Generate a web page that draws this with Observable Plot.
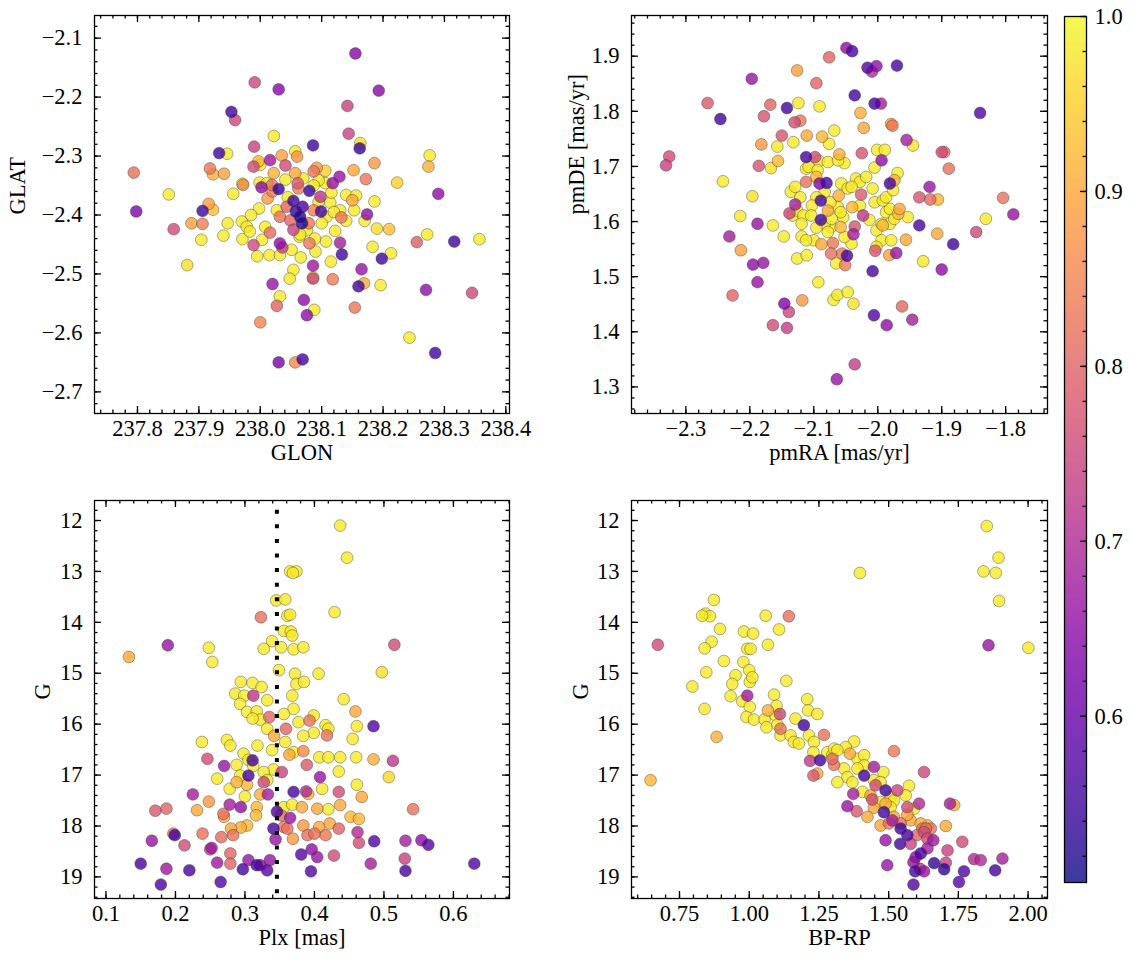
<!DOCTYPE html>
<html>
<head>
<meta charset="utf-8">
<script src="https://cdn.jsdelivr.net/npm/d3@7"></script>
<script src="https://cdn.jsdelivr.net/npm/@observablehq/plot@0.6"></script>
<style>
  body { margin: 0; background: #fff; }
  #fig { position: relative; width: 1133px; height: 965px; background: #fff; overflow: hidden; }
  #fig svg { position: absolute; overflow: visible; }
</style>
</head>
<body>
<div id="fig"></div>
<script>
// ---------- tick labels ----------
const glonTicks = [237.8, 237.9, 238.0, 238.1, 238.2, 238.3, 238.4];
const glatTicks = [-2.7, -2.6, -2.5, -2.4, -2.3, -2.2, -2.1];
const pmraTicks = [-2.3, -2.2, -2.1, -2.0, -1.9, -1.8];
const pmdeTicks = [1.3, 1.4, 1.5, 1.6, 1.7, 1.8, 1.9];
const plxTicks = [0.1, 0.2, 0.3, 0.4, 0.5, 0.6];
const gTicks = [12, 13, 14, 15, 16, 17, 18, 19];
const bprpTicks = [0.75, 1.0, 1.25, 1.5, 1.75, 2.0];
const probTicks = [0.6, 0.7, 0.8, 0.9, 1.0];
const probRange = [0.505, 1.0];
const plxMean = [0.346];

// ---------- data: [x, y, membership probability] ----------
const skyPoints = [
[238.155,-2.126,.64],[237.991,-2.175,.75],[238.030,-2.187,.64],[238.193,-2.189,.64],[237.953,-2.225,.55],
[237.959,-2.239,.75],[238.142,-2.215,.74],[238.144,-2.262,.74],[238.022,-2.266,.98],[238.086,-2.282,.55],
[238.163,-2.278,.97],[238.162,-2.287,.54],[237.990,-2.284,.74],[237.946,-2.296,.98],[237.933,-2.295,.55],
[238.276,-2.299,.98],[238.274,-2.318,.91],[237.794,-2.328,.82],[238.186,-2.312,.88],[238.223,-2.345,.95],
[238.290,-2.364,.65],[237.798,-2.394,.63],[237.851,-2.365,.98],[237.859,-2.424,.76],[237.888,-2.414,.89],
[237.906,-2.415,.84],[237.916,-2.381,.89],[237.923,-2.391,.93],[237.906,-2.393,.55],[237.918,-2.321,.83],
[237.923,-2.331,.91],[237.941,-2.330,.89],[237.904,-2.442,.98],[237.881,-2.485,.97],[237.940,-2.435,.98],
[237.947,-2.414,.98],[237.956,-2.364,.98],[237.972,-2.349,.85],[237.970,-2.411,.98],[237.971,-2.441,.98],
[237.989,-2.451,.76],[237.995,-2.470,.98],[237.999,-2.345,.98],[238.002,-2.353,.65],[237.998,-2.389,.98],
[238.000,-2.315,.98],[237.997,-2.309,.92],[237.989,-2.318,.76],[238.016,-2.307,.67],[238.012,-2.372,.88],
[238.020,-2.360,.84],[238.022,-2.329,.91],[238.035,-2.299,.89],[238.041,-2.316,.76],[238.060,-2.301,.87],
[238.030,-2.356,.54],[238.057,-2.292,.98],[238.057,-2.329,.90],[238.061,-2.346,.78],[238.062,-2.355,.84],
[238.054,-2.376,.55],[238.058,-2.394,.54],[238.065,-2.403,.52],[238.069,-2.386,.56],[238.068,-2.414,.52],
[238.043,-2.386,.80],[238.049,-2.409,.80],[238.054,-2.425,.74],[238.080,-2.359,.54],[238.092,-2.320,.88],
[238.087,-2.326,.83],[238.106,-2.325,.95],[238.098,-2.369,.72],[238.099,-2.394,.56],[238.087,-2.392,.84],
[238.079,-2.414,.83],[238.076,-2.426,.98],[238.118,-2.346,.66],[238.129,-2.335,.66],[238.114,-2.379,.98],
[238.116,-2.362,.98],[238.132,-2.404,.83],[238.140,-2.366,.98],[238.156,-2.367,.98],[238.150,-2.375,.90],
[238.153,-2.392,.98],[238.152,-2.324,.90],[238.172,-2.339,.83],[238.174,-2.399,.65],[238.170,-2.410,.98],
[238.186,-2.377,.98],[238.190,-2.423,.97],[238.210,-2.424,.93],[238.183,-2.454,.98],[238.213,-2.465,.98],
[238.198,-2.474,.55],[238.165,-2.492,.66],[238.196,-2.519,.98],[238.169,-2.516,.90],[238.160,-2.521,.55],
[238.154,-2.557,.83],[238.130,-2.447,.68],[238.133,-2.467,.55],[238.122,-2.427,.98],[238.107,-2.445,.98],
[238.115,-2.479,.98],[238.118,-2.509,.84],[238.086,-2.486,.67],[238.086,-2.506,.98],[238.086,-2.508,.74],
[238.089,-2.440,.98],[238.090,-2.462,.98],[238.080,-2.448,.83],[238.066,-2.472,.98],[238.064,-2.437,.98],
[238.054,-2.493,.98],[238.048,-2.508,.98],[238.071,-2.544,.65],[238.088,-2.561,.98],[238.076,-2.570,.65],
[238.032,-2.538,.98],[238.027,-2.554,.80],[238.020,-2.517,.66],[238.000,-2.582,.85],[238.030,-2.650,.62],
[238.057,-2.650,.86],[238.069,-2.645,.56],[238.243,-2.608,.98],[238.285,-2.634,.55],[238.345,-2.532,.75],
[238.270,-2.527,.65],[238.255,-2.446,.79],[238.272,-2.433,.98],[238.316,-2.445,.55],[238.357,-2.441,.98],
[238.032,-2.448,.65],[238.036,-2.455,.74],[238.016,-2.430,.81],[238.015,-2.468,.98],[238.032,-2.468,.98],
[238.051,-2.459,.98],[238.008,-2.420,.98],[238.003,-2.442,.98],[237.978,-2.420,.98],[237.983,-2.428,.98],
[238.108,-2.403,.98],[238.100,-2.414,.98],[238.106,-2.346,.98],[238.095,-2.341,.98],[238.070,-2.338,.98],
[238.087,-2.350,.98],[238.027,-2.392,.98],[238.032,-2.403,.82],[238.011,-2.346,.98],[238.019,-2.349,.82],
[237.971,-2.347,.98],[238.130,-2.392,.98],[238.041,-2.340,.98],[238.045,-2.370,.98],[238.095,-2.378,.98],
[238.120,-2.395,.98],[238.065,-2.433,.98],[237.985,-2.400,.98],[238.140,-2.410,.98]
];

const pmPoints = [
[-2.331,1.702,.74],[-2.326,1.718,.76],[-2.266,1.815,.78],[-2.246,1.786,.55],[-2.242,1.673,.98],
[-2.197,1.859,.66],[-2.182,1.740,.88],[-2.168,1.812,.80],[-2.178,1.791,.77],[-2.186,1.701,.77],
[-2.196,1.646,.97],[-2.215,1.610,.98],[-2.188,1.596,.66],[-2.232,1.573,.68],[-2.214,1.548,.89],
[-2.195,1.522,.65],[-2.179,1.525,.66],[-2.188,1.490,.66],[-2.227,1.466,.80],[-2.164,1.412,.76],
[-2.146,1.451,.63],[-2.139,1.436,.75],[-2.142,1.407,.73],[-2.118,1.457,.88],[-2.164,1.593,.98],
[-2.147,1.573,.98],[-2.138,1.615,.75],[-2.129,1.631,.68],[-2.133,1.611,.98],[-2.136,1.654,.98],
[-2.157,1.736,.98],[-2.156,1.710,.92],[-2.167,1.697,.97],[-2.150,1.756,.77],[-2.132,1.744,.98],
[-2.142,1.806,.55],[-2.126,1.874,.89],[-2.124,1.815,.98],[-2.130,1.780,.76],[-2.121,1.783,.83],
[-2.111,1.756,.90],[-2.096,1.851,.80],[-2.091,1.809,.98],[-2.087,1.754,.92],[-2.076,1.741,.98],
[-2.068,1.765,.98],[-2.076,1.898,.80],[-2.049,1.915,.65],[-2.040,1.909,.57],[-2.036,1.829,.55],
[-2.016,1.879,.58],[-2.009,1.872,.70],[-2.002,1.882,.65],[-1.970,1.883,.56],[-1.995,1.814,.68],
[-2.005,1.814,.56],[-2.027,1.797,.91],[-2.022,1.770,.90],[-1.979,1.777,.90],[-1.977,1.774,.83],
[-1.955,1.748,.68],[-1.945,1.738,.98],[-2.001,1.730,.98],[-1.989,1.730,.98],[-2.025,1.724,.77],
[-1.994,1.711,.65],[-2.005,1.698,.98],[-1.969,1.688,.98],[-1.981,1.669,.56],[-1.974,1.675,.91],
[-1.900,1.726,.76],[-1.896,1.726,.82],[-1.889,1.696,.82],[-1.919,1.663,.66],[-1.935,1.644,.77],
[-1.918,1.640,.81],[-1.906,1.640,.92],[-1.935,1.593,.56],[-1.953,1.608,.98],[-1.968,1.614,.92],
[-1.956,1.567,.90],[-1.907,1.578,.90],[-1.882,1.559,.55],[-1.929,1.528,.98],[-1.900,1.513,.65],
[-1.971,1.543,.66],[-1.982,1.539,.89],[-2.004,1.547,.77],[-2.008,1.510,.56],[-2.006,1.430,.57],
[-1.986,1.412,.65],[-1.962,1.446,.81],[-1.946,1.422,.68],[-1.846,1.581,.75],[-1.840,1.797,.57],
[-1.831,1.605,.98],[-1.804,1.643,.82],[-1.788,1.613,.66],[-2.036,1.341,.73],[-2.064,1.314,.66],
[-2.069,1.458,.98],[-2.063,1.467,.98],[-2.047,1.472,.98],[-2.038,1.451,.97],[-2.093,1.490,.98],
[-2.126,1.533,.98],[-2.111,1.539,.98],[-2.100,1.566,.98],[-2.119,1.573,.98],[-2.088,1.559,.90],
[-2.070,1.561,.83],[-2.073,1.542,.82],[-2.065,1.524,.98],[-2.056,1.542,.83],[-2.051,1.521,.84],
[-2.048,1.538,.56],[-2.041,1.560,.98],[-2.038,1.577,.68],[-2.036,1.591,.77],[-2.058,1.590,.92],
[-2.073,1.590,.98],[-2.083,1.596,.98],[-2.054,1.608,.98],[-2.040,1.626,.92],[-2.023,1.611,.72],
[-2.028,1.629,.98],[-2.013,1.603,.98],[-2.005,1.635,.98],[-2.026,1.649,.78],[-2.008,1.660,.98],
[-2.034,1.678,.98],[-2.028,1.672,.98],[-2.002,1.584,.98],[-1.992,1.593,.92],[-1.987,1.617,.98],
[-1.981,1.623,.98],[-1.992,1.638,.98],[-1.981,1.596,.98],[-1.974,1.605,.98],[-1.994,1.566,.98],
[-1.979,1.566,.98],[-1.994,1.596,.98],[-2.002,1.554,.98],[-1.987,1.644,.98],[-1.976,1.657,.98],
[-2.057,1.669,.98],[-2.047,1.660,.98],[-2.061,1.647,.91],[-2.062,1.626,.98],[-2.058,1.617,.98],
[-2.078,1.620,.90],[-2.074,1.635,.98],[-2.089,1.603,.55],[-2.089,1.638,.56],[-2.091,1.669,.64],
[-2.080,1.670,.55],[-2.083,1.654,.98],[-2.096,1.644,.98],[-2.103,1.629,.98],[-2.112,1.672,.82],
[-2.112,1.696,.98],[-2.112,1.717,.56],[-2.098,1.717,.76],[-2.108,1.699,.98],[-2.092,1.710,.98],
[-2.094,1.693,.98],[-2.096,1.681,.92],[-2.078,1.708,.98],[-2.060,1.722,.91],[-2.052,1.706,.98],
[-2.062,1.711,.98],[-2.041,1.663,.98],[-2.018,1.681,.98],[-2.121,1.644,.98],[-2.129,1.663,.98],
[-2.126,1.620,.98],[-2.116,1.611,.98],[-2.104,1.611,.98],[-2.119,1.596,.98],[-2.112,1.566,.98],
[-2.096,1.589,.98],[-2.078,1.581,.98],[-2.072,1.605,.98],[-2.052,1.572,.98],[-1.966,1.623,.90]
];

const plxPoints = [
[0.437,12.10,.98],[0.447,12.73,.98],[0.365,13.00,.98],[0.374,13.00,.98],[0.369,13.03,.98],
[0.345,13.57,.98],[0.358,13.55,.98],[0.361,13.87,.98],[0.365,13.85,.98],[0.429,13.80,.98],
[0.323,13.90,.82],[0.339,14.37,.98],[0.356,14.17,.98],[0.366,14.18,.98],[0.368,14.26,.98],
[0.352,14.49,.98],[0.327,14.52,.98],[0.370,14.53,.98],[0.384,14.49,.98],[0.248,14.50,.98],
[0.253,14.78,.98],[0.189,14.45,.66],[0.133,14.68,.90],[0.515,14.44,.76],[0.497,14.98,.97],
[0.406,15.01,.98],[0.372,15.01,.98],[0.374,15.21,.98],[0.385,15.17,.98],[0.349,14.94,.98],
[0.294,15.17,.98],[0.311,15.19,.98],[0.324,15.27,.98],[0.286,15.40,.98],[0.299,15.44,.98],
[0.312,15.44,.72],[0.293,15.60,.98],[0.332,15.53,.98],[0.303,15.76,.98],[0.317,15.75,.98],
[0.335,15.86,.80],[0.322,15.91,.98],[0.311,15.89,.98],[0.368,15.44,.98],[0.370,15.70,.98],
[0.356,15.80,.98],[0.377,15.96,.98],[0.442,15.51,.98],[0.459,15.75,.90],[0.461,16.04,.98],
[0.485,16.04,.57],[0.393,15.93,.82],[0.399,15.83,.98],[0.416,16.02,.98],[0.420,16.09,.98],
[0.399,16.17,.98],[0.384,16.23,.98],[0.418,16.22,.82],[0.359,16.09,.80],[0.342,16.23,.90],
[0.332,16.09,.98],[0.318,16.42,.98],[0.358,16.35,.98],[0.238,16.35,.98],[0.274,16.31,.98],
[0.279,16.42,.98],[0.455,16.29,.98],[0.339,16.51,.98],[0.370,16.55,.98],[0.364,16.60,.90],
[0.384,16.53,.86],[0.437,16.65,.98],[0.407,16.65,.98],[0.420,16.65,.98],[0.460,16.65,.98],
[0.485,16.69,.91],[0.513,16.72,.72],[0.246,16.68,.76],[0.298,16.58,.98],[0.311,16.71,.56],
[0.305,16.70,.98],[0.288,16.80,.98],[0.312,16.82,.98],[0.270,16.82,.66],[0.389,16.80,.78],
[0.353,16.94,.74],[0.341,16.89,.98],[0.327,16.94,.98],[0.332,17.10,.98],[0.305,17.01,.56],
[0.293,17.01,.98],[0.260,17.07,.98],[0.408,17.04,.66],[0.435,16.93,.98],[0.507,17.04,.96],
[0.278,17.27,.98],[0.288,17.14,.91],[0.303,17.19,.92],[0.327,17.14,.75],[0.333,17.38,.68],
[0.322,17.38,.91],[0.300,17.42,.98],[0.370,17.33,.56],[0.388,17.32,.70],[0.391,17.37,.92],
[0.411,17.27,.98],[0.435,17.33,.76],[0.461,17.19,.98],[0.468,17.43,.90],[0.225,17.38,.68],
[0.248,17.52,.88],[0.278,17.58,.68],[0.294,17.63,.65],[0.317,17.63,.92],[0.316,17.79,.92],
[0.356,17.63,.98],[0.368,17.58,.98],[0.382,17.63,.90],[0.404,17.66,.90],[0.420,17.67,.98],
[0.437,17.59,.90],[0.452,17.82,.92],[0.464,17.86,.92],[0.542,17.67,.82],[0.231,17.69,.90],
[0.269,17.76,.82],[0.270,17.82,.90],[0.187,17.66,.80],[0.171,17.70,.78],[0.197,18.15,.82],
[0.199,18.18,.55],[0.166,18.29,.66],[0.213,18.38,.76],[0.239,18.15,.82],[0.252,18.43,.67],
[0.250,18.46,.74],[0.266,18.22,.81],[0.283,18.18,.82],[0.280,18.05,.90],[0.294,18.03,.91],
[0.303,17.99,.92],[0.341,18.05,.56],[0.344,18.26,.66],[0.346,17.72,.56],[0.352,17.79,.82],
[0.356,18.02,.83],[0.361,18.05,.82],[0.365,17.84,.66],[0.369,18.25,.88],[0.384,17.99,.88],
[0.390,18.18,.82],[0.400,18.15,.82],[0.407,18.02,.90],[0.416,18.18,.83],[0.422,17.95,.90],
[0.435,18.05,.80],[0.462,18.12,.70],[0.464,18.33,.76],[0.486,18.30,.57],[0.531,18.29,.68],
[0.554,18.28,.65],[0.564,18.37,.58],[0.530,18.64,.74],[0.531,18.88,.56],[0.630,18.74,.57],
[0.481,18.74,.68],[0.428,18.58,.76],[0.396,18.46,.65],[0.404,18.61,.66],[0.381,18.56,.58],
[0.395,18.89,.57],[0.336,18.67,.66],[0.322,18.77,.64],[0.332,18.87,.58],[0.317,18.77,.56],
[0.305,18.67,.66],[0.297,18.85,.56],[0.279,18.54,.80],[0.279,18.74,.80],[0.260,18.72,.67],
[0.265,19.10,.57],[0.220,18.87,.56],[0.187,18.84,.67],[0.179,19.15,.56],[0.150,18.74,.56]
];

const cmdPoints = [
[1.852,12.11,.98],[1.894,12.73,.98],[1.840,13.00,.98],[1.884,13.03,.98],[1.896,13.58,.98],
[1.858,14.45,.66],[2.001,14.50,.98],[1.397,13.03,.98],[0.873,13.56,.98],[0.843,13.83,.98],
[0.859,13.88,.98],[0.831,13.87,.98],[0.895,14.13,.98],[0.865,14.38,.98],[0.840,14.51,.98],
[0.672,14.44,.76],[0.909,14.76,.98],[0.846,14.98,.98],[0.796,15.26,.98],[0.840,15.70,.98],
[0.883,16.25,.91],[0.646,17.10,.92],[0.951,15.04,.98],[0.939,15.21,.98],[0.933,15.45,.98],
[0.979,14.78,.98],[0.993,14.52,.98],[0.981,14.18,.98],[1.014,14.22,.98],[1.005,14.52,.98],
[1.000,14.94,.98],[1.002,15.17,.98],[1.011,15.08,.98],[0.993,15.44,.67],[0.975,15.55,.98],
[1.002,15.66,.98],[0.990,15.86,.98],[1.017,15.91,.98],[1.059,13.87,.98],[1.067,14.44,.98],
[1.107,14.14,.98],[1.142,13.88,.82],[1.089,15.42,.98],[1.133,15.15,.98],[1.067,15.73,.91],
[1.055,15.91,.98],[1.062,16.06,.98],[1.095,15.83,.98],[1.098,15.64,.98],[1.110,15.80,.75],
[1.112,16.09,.82],[1.101,16.01,.98],[1.112,16.22,.98],[1.148,16.22,.98],[1.160,16.35,.98],
[1.178,16.38,.98],[1.166,15.89,.98],[1.208,15.51,.98],[1.211,15.73,.98],[1.244,15.80,.98],
[1.196,16.02,.55],[1.214,16.22,.98],[1.232,16.35,.98],[1.230,16.55,.98],[1.268,16.21,.82],
[1.280,16.55,.98],[1.298,16.61,.98],[1.218,16.72,.72],[1.254,16.71,.55],[1.298,16.68,.81],
[1.304,16.80,.82],[1.230,17.01,.78],[1.244,16.97,.90],[1.376,16.34,.98],[1.346,16.45,.98],
[1.361,16.58,.90],[1.388,16.68,.98],[1.412,16.61,.98],[1.340,16.87,.98],[1.352,17.04,.98],
[1.316,17.14,.98],[1.370,17.14,.98],[1.412,17.01,.55],[1.447,16.84,.68],[1.481,16.94,.98],
[1.447,17.10,.98],[1.519,16.53,.83],[1.627,16.94,.75],[1.453,17.20,.76],[1.435,17.40,.90],
[1.373,17.37,.68],[1.406,17.33,.98],[1.489,17.30,.55],[1.531,17.30,.75],[1.573,17.21,.98],
[1.561,17.40,.98],[1.507,17.43,.98],[1.471,17.53,.98],[1.447,17.64,.90],[1.441,17.48,.76],
[1.352,17.61,.66],[1.385,17.71,.78],[1.424,17.82,.90],[1.483,17.73,.55],[1.489,17.56,.90],
[1.519,17.82,.90],[1.567,17.63,.76],[1.609,17.56,.70],[1.720,17.56,.68],[1.735,17.59,.91],
[1.519,17.50,.98],[1.471,17.99,.90],[1.501,17.95,.82],[1.513,17.89,.68],[1.543,17.95,.82],
[1.579,17.89,.90],[1.639,17.99,.92],[1.621,18.05,.82],[1.705,18.00,.90],[1.543,18.05,.55],
[1.567,18.18,.56],[1.541,18.35,.55],[1.489,18.28,.66],[1.579,18.35,.74],[1.601,18.18,.80],
[1.627,18.12,.76],[1.651,18.05,.82],[1.660,18.28,.67],[1.639,18.25,.76],[1.615,18.54,.56],
[1.639,18.44,.68],[1.711,18.48,.74],[1.764,18.31,.76],[1.806,18.65,.70],[1.830,18.67,.70],
[1.908,18.64,.68],[1.882,18.87,.56],[1.770,18.89,.57],[1.752,19.10,.58],[1.699,18.85,.53],
[1.663,18.73,.54],[1.597,18.61,.65],[1.612,18.84,.72],[1.595,18.89,.56],[1.627,18.89,.66],
[1.589,19.15,.57],[1.495,18.77,.66],[1.705,18.72,.74],[1.589,18.71,.66],[1.304,16.48,.98],
[1.316,16.51,.98],[1.412,16.81,.98],[1.388,16.87,.98],[1.471,17.14,.98],[1.507,17.63,.98],
[1.591,17.66,.98],[1.567,17.78,.90],[1.615,17.95,.90],[1.633,18.05,.82]
];

// ---------- figure ----------
const fig = document.getElementById("fig");
const FONT = "'Liberation Serif', 'DejaVu Serif', serif";
const FS = 22.5;
const LW = 1.3;
const colorScale = {type: "linear", scheme: "plasma", domain: probRange};

function minorTicks(domain, step) {
  const [a, b] = d3.extent(domain);
  return d3.range(Math.ceil(a / step - 1e-9), Math.floor(b / step + 1e-9) + 1).map(i => +(i * step).toFixed(6));
}
function within(domain) {
  const [a, b] = d3.extent(domain);
  return v => v >= a - 1e-9 && v <= b + 1e-9;
}

// inward tick marks on all four sides, drawn with tick marks inset from the frame
function inwardTicks(xt, yt, fw, fh, len) {
  const s = {stroke: "black", strokeWidth: LW};
  const marks = [];
  if (xt) {
    marks.push(Plot.tickX(xt, {x: d => d, insetTop: fh - len, ...s}));
    marks.push(Plot.tickX(xt, {x: d => d, insetBottom: fh - len, ...s}));
  }
  if (yt) {
    marks.push(Plot.tickY(yt, {y: d => d, insetRight: fw - len, ...s}));
    marks.push(Plot.tickY(yt, {y: d => d, insetLeft: fw - len, ...s}));
  }
  return marks;
}

function panel(o) {
  const data = o.points.map(([x, y, p]) => ({x, y, p})).sort((a, b) => b.p - a.p);
  const xt = o.xTicks.filter(within(o.xDomain));
  const yt = o.yTicks.filter(within(o.yDomain));
  const xm = minorTicks(o.xDomain, o.xStep);
  const ym = minorTicks(o.yDomain, o.yStep);
  const fw = o.width - o.mL - o.mR, fh = o.height - o.mT - o.mB;
  const svg = Plot.plot({
    width: o.width, height: o.height,
    marginLeft: o.mL, marginRight: o.mR, marginTop: o.mT, marginBottom: o.mB,
    x: {domain: o.xDomain},
    y: {domain: o.yDomain, reverse: !!o.yReverse},
    color: colorScale,
    style: {fontFamily: FONT, fontSize: FS + "px", background: "transparent", color: "black"},
    marks: [
      Plot.dot(data, {x: "x", y: "y", fill: "p", r: 5.9, fillOpacity: 0.8,
        stroke: "#333", strokeWidth: 0.5, strokeOpacity: 0.8}),
      ...(o.extra || []),
      ...inwardTicks(xm, ym, fw, fh, 3.5),
      ...inwardTicks(xt, yt, fw, fh, 7),
      Plot.frame({stroke: "black", strokeWidth: LW}),
      Plot.axisX(xt, {anchor: "bottom", tickSize: 0, tickPadding: 7, tickFormat: o.xFmt, label: null, fontSize: FS}),
      Plot.axisY(yt, {anchor: "left", tickSize: 0, tickPadding: 12, tickFormat: o.yFmt, label: null, fontSize: FS}),
      Plot.text([o.xLabel], {text: d => d, frameAnchor: "bottom", dy: 46, fontSize: FS}),
      Plot.text([o.yLabel], {text: d => d, frameAnchor: "left", dx: o.yLabelDx, rotate: -90, fontSize: FS})
    ]
  });
  svg.style.left = o.left + "px";
  svg.style.top = o.top + "px";
  fig.appendChild(svg);
}

const f1 = d3.format(".1f"), f0 = d3.format("d"), f2 = d3.format(".2f");

panel({points: skyPoints, left: 0, top: 0, width: 560, height: 490, mL: 94, mR: 51, mT: 15, mB: 77,
  xDomain: [237.730, 238.406], yDomain: [-2.7367, -2.0616], xTicks: glonTicks, yTicks: glatTicks,
  xStep: 0.02, yStep: 0.02, xFmt: f1, yFmt: f1, xLabel: "GLON", yLabel: "GLAT", yLabelDx: -77});

panel({points: pmPoints, left: 540, top: 0, width: 520, height: 490, mL: 91, mR: 13, mT: 15, mB: 77,
  xDomain: [-2.385, -1.7346], yDomain: [1.2518, 1.9738], xTicks: pmraTicks, yTicks: pmdeTicks,
  xStep: 0.02, yStep: 0.02, xFmt: f1, yFmt: f1, xLabel: "pmRA [mas/yr]", yLabel: "pmDE [mas/yr]", yLabelDx: -55});

panel({points: plxPoints, left: 0, top: 490, width: 560, height: 475, mL: 94, mR: 51, mT: 10, mB: 67,
  xDomain: [0.0835, 0.6807], yDomain: [11.607, 19.424], yReverse: true, xTicks: plxTicks, yTicks: gTicks,
  xStep: 0.02, yStep: 0.2, xFmt: f1, yFmt: f0, xLabel: "Plx [mas]", yLabel: "G", yLabelDx: -52,
  extra: [Plot.ruleX(plxMean, {stroke: "black", strokeWidth: 4, strokeDasharray: "4,10.6", strokeDashoffset: 4.9})]});

panel({points: cmdPoints, left: 540, top: 490, width: 520, height: 475, mL: 91, mR: 13, mT: 10, mB: 67,
  xDomain: [0.5778, 2.0696], yDomain: [11.607, 19.424], yReverse: true, xTicks: bprpTicks, yTicks: gTicks,
  xStep: 0.05, yStep: 0.2, xFmt: f2, yFmt: f0, xLabel: "BP-RP", yLabel: "G", yLabelDx: -51});

// ---------- colorbar ----------
{
  const steps = d3.range(probRange[0], probRange[1], 0.0025);
  const cbMinor = minorTicks(probRange, 0.02);
  const W = 93, H = 900, mL = 24, mR = 47, mT = 16, mB = 18;
  const fw = W - mL - mR;
  const cb = Plot.plot({
    width: W, height: H, marginLeft: mL, marginRight: mR, marginTop: mT, marginBottom: mB,
    x: {domain: [0, 1], axis: null},
    y: {domain: probRange},
    color: colorScale,
    style: {fontFamily: FONT, fontSize: FS + "px", background: "transparent", color: "black"},
    marks: [
      Plot.rect(steps, {x1: () => 0, x2: () => 1, y1: d => d, y2: d => Math.min(probRange[1], d + 0.0025),
        fill: d => d, fillOpacity: 0.8, shapeRendering: "crispEdges"}),
      Plot.tickY(cbMinor, {y: d => d, insetLeft: fw - 3.5, stroke: "black", strokeWidth: LW}),
      Plot.tickY(probTicks, {y: d => d, insetLeft: fw - 6, stroke: "black", strokeWidth: LW}),
      Plot.frame({stroke: "black", strokeWidth: LW}),
      Plot.axisY(probTicks, {anchor: "right", tickSize: 0, tickPadding: 8, tickFormat: f1, label: null, fontSize: FS})
    ]
  });
  cb.style.left = "1040px";
  cb.style.top = "0px";
  fig.appendChild(cb);
}
</script>
</body>
</html>
